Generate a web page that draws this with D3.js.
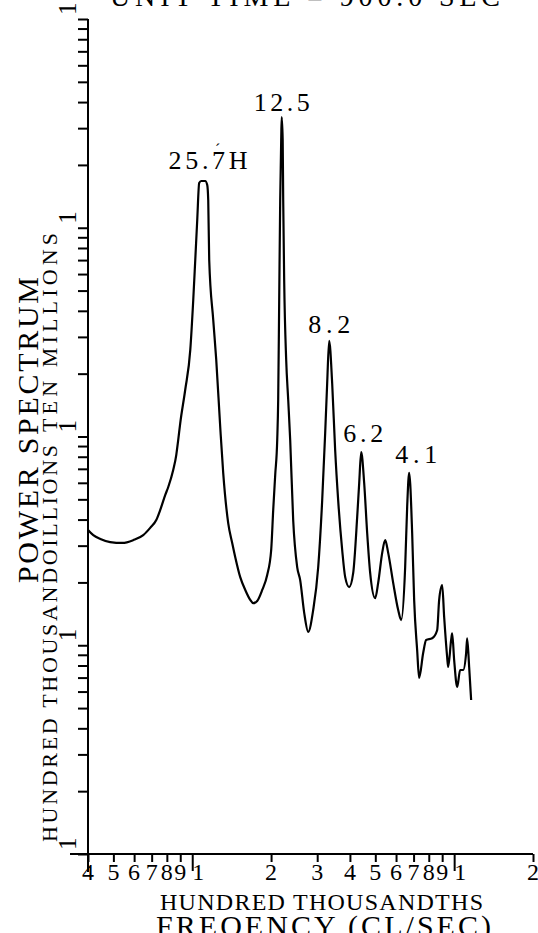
<!DOCTYPE html>
<html>
<head>
<meta charset="utf-8">
<script src="https://cdnjs.cloudflare.com/ajax/libs/d3/7.8.5/d3.min.js"></script>
<style>
  body { margin: 0; background: #fff; }
  text { font-family: "Liberation Serif", "DejaVu Serif", serif; fill: #000; }
</style>
</head>
<body>
<div id="chart"></div>
<script>
let svg_width = 538
let svg_height = 933

// frequency in hundred thousandths cl/sec
const freq = [0.400, 0.419, 0.446, 0.486, 0.541, 0.596, 0.650, 0.691, 0.729, 0.755,
  0.789, 0.810, 0.846, 0.869, 0.884, 0.900, 0.940, 0.983, 1.009, 1.027,
  1.045, 1.063, 1.082, 1.121, 1.141, 1.151, 1.161, 1.203, 1.235, 1.279,
  1.313, 1.372, 1.421, 1.459, 1.525, 1.594, 1.665, 1.710, 1.770, 1.850,
  1.933, 2.002, 2.038, 2.074, 2.111, 2.129, 2.148, 2.167, 2.186, 2.196,
  2.215, 2.225, 2.244, 2.284, 2.325, 2.366, 2.429, 2.516, 2.583, 2.676,
  2.772, 2.896, 3.027, 3.135, 3.218, 3.275, 3.333, 3.422, 3.513, 3.607,
  3.737, 3.837, 3.974, 4.117, 4.264, 4.340, 4.416, 4.534, 4.655, 4.779,
  4.995, 5.128, 5.312, 5.454, 5.600, 5.851, 6.114, 6.277, 6.501, 6.616,
  6.733, 6.913, 7.035, 7.223, 7.351, 7.615, 7.818, 8.241, 8.612, 8.765,
  9.000, 9.159, 9.404, 9.487, 9.739, 9.826, 10.00, 10.27, 10.54, 10.82,
  11.11, 11.21, 11.41, 11.61]

// power spectrum, log axis (each decade marked "1")
const power = [35.7, 33.7, 32.3, 31.2, 30.9, 31.9, 33.7, 36.5, 39.8, 44.5,
  52.5, 57.3, 69.1, 81.5, 96.2, 116, 167, 260, 451, 701,
  1089, 1640, 1675, 1675, 1602, 1358, 701, 361, 233, 111,
  66.9, 38.5, 30.9, 26.5, 21.2, 18.4, 16.5, 15.9, 16.3, 18.4,
  21.7, 28.6, 44.5, 65.4, 96.2, 150, 451, 1358, 2633, 3393,
  2633, 1358, 562, 233, 150, 96.2, 39.8, 23.7, 20.5, 14.3,
  11.6, 14.75, 23.7, 49.6, 104, 180, 287, 180, 86.2, 49.6,
  28.6, 21.2, 19.0, 22.2, 41.2, 59.9, 84.3, 59.9, 34.5, 22.2,
  16.8, 19.9, 27.7, 31.9, 27.7, 19.9, 14.75, 13.2, 23.7, 46.0,
  66.9, 34.5, 16.5, 9.49, 6.97, 9.18, 10.6, 10.8, 11.8, 16.5,
  19.4, 13.65, 8.78, 7.87, 10.6, 11.4, 8.50, 6.31, 7.61, 7.61,
  9.18, 10.8, 7.87, 5.47]

const xTickValues = [0.4, 0.5, 0.6, 0.7, 0.8, 0.9, 1, 2, 3, 4, 5, 6, 7, 8, 9, 10, 20]
const xTickLabels = ["4", "5", "6", "7", "8", "9", "1", "2", "3", "4", "5", "6", "7", "8", "9", "1", "2"]
const yDecades = [1, 10, 100, 1000, 10000]
const yDecadeLabels = ["1", "1", "1", "1", "1"]

const peakLabels = ["25.7H", "12.5", "8.2", "6.2", "4.1"]
const peakFreq = [1.10, 2.196, 3.333, 4.416, 6.733]
const peakPower = [1675, 3393, 287, 84.3, 66.9]

// label layout tweaks (pixels)
const peakDx = [5, 0, 0, 2, 7]
const peakDy = [12, 6, 8, 10, 10]
const peakWidth = [79, 56, 42, 40, 42]

let x = d3.scaleLog().domain([0.4, 20]).range([88, 533])
let y = d3.scaleLog().domain([1, 10000]).range([854, 19])

let svg = d3.select("#chart")
    .append("svg")
    .attr("width", svg_width)
    .attr("height", svg_height)

// title, mostly cut off at the top
svg.append("text")
    .attr("x", 110)
    .attr("y", 6)
    .style("font-size", "28px")
    .attr("textLength", 390)
    .attr("lengthAdjust", "spacing")
    .text("UNIT TIME = 900.0 SEC")

// x axis
let xAxis = svg.append("g")
    .attr("transform", `translate(0,${y(1)})`)
    .call(d3.axisBottom(x).tickValues(xTickValues).tickSize(8).tickSizeOuter(0).tickFormat(""))
xAxis.select(".domain").attr("d", `M70,0H${x(20)}`)
xAxis.selectAll(".tick line").attr("y2", d => (d === 1 || d === 10) ? 17 : 8)
xAxis.selectAll("path, line").attr("stroke", "#000").attr("stroke-width", 2)

svg.append("g")
    .selectAll("text")
    .data(xTickValues)
    .enter()
    .append("text")
    .attr("x", (d, i) => x(d) + (xTickLabels[i] === "1" ? 6 : 0))
    .attr("y", 880)
    .attr("text-anchor", "middle")
    .style("font-size", "24px")
    .text((d, i) => xTickLabels[i])

// y axis
let yAxis = svg.append("g")
    .attr("transform", `translate(${x(0.4)},0)`)
    .call(d3.axisLeft(y).tickValues(y.ticks()).tickSize(10).tickSizeOuter(0).tickFormat(""))
yAxis.select(".domain").attr("d", `M0,${y(10000)}V872`)
yAxis.selectAll("path, line").attr("stroke", "#000").attr("stroke-width", 2)

svg.append("g")
    .selectAll("text")
    .data(yDecades)
    .enter()
    .append("text")
    .attr("transform", d => `translate(76,${y(d) - 4}) rotate(-90)`)
    .style("font-size", "25px")
    .text((d, i) => yDecadeLabels[i])

// spectrum curve
let line = d3.line()
    .x(d => x(d[0]))
    .y(d => y(d[1]))
    .curve(d3.curveMonotoneX)

svg.append("path")
    .datum(d3.zip(freq, power))
    .attr("d", line)
    .attr("fill", "none")
    .attr("stroke", "#000")
    .attr("stroke-width", 2.2)
    .attr("stroke-linejoin", "round")

// peak period labels
svg.append("g")
    .selectAll("text")
    .data(peakLabels)
    .enter()
    .append("text")
    .attr("x", (d, i) => x(peakFreq[i]) + peakDx[i])
    .attr("y", (d, i) => y(peakPower[i]) - peakDy[i])
    .attr("text-anchor", "middle")
    .attr("textLength", (d, i) => peakWidth[i])
    .attr("lengthAdjust", "spacing")
    .style("font-size", "26px")
    .text(d => d)

svg.append("text")
    .attr("x", x(peakFreq[0]) + 12)
    .attr("y", y(peakPower[0]) - 26)
    .style("font-size", "16px")
    .text("´")

// axis titles
svg.append("text")
    .attr("transform", "translate(38,583) rotate(-90)")
    .style("font-size", "30px")
    .attr("textLength", 306)
    .attr("lengthAdjust", "spacing")
    .text("POWER SPECTRUM")

svg.append("text")
    .attr("transform", "translate(57,842) rotate(-90)")
    .style("font-size", "22px")
    .attr("textLength", 397)
    .attr("lengthAdjust", "spacing")
    .text("HUNDRED THOUSANDOILLIONS")

svg.append("text")
    .attr("transform", "translate(57,432) rotate(-90)")
    .style("font-size", "22px")
    .attr("textLength", 199)
    .attr("lengthAdjust", "spacing")
    .text("TEN MILLIONS")

svg.append("text")
    .attr("x", 160)
    .attr("y", 910)
    .style("font-size", "24px")
    .attr("textLength", 323)
    .attr("lengthAdjust", "spacing")
    .text("HUNDRED THOUSANDTHS")

svg.append("text")
    .attr("x", 156)
    .attr("y", 936)
    .style("font-size", "30px")
    .attr("textLength", 335)
    .attr("lengthAdjust", "spacing")
    .text("FREQENCY (CL/SEC)")
</script>
</body>
</html>
